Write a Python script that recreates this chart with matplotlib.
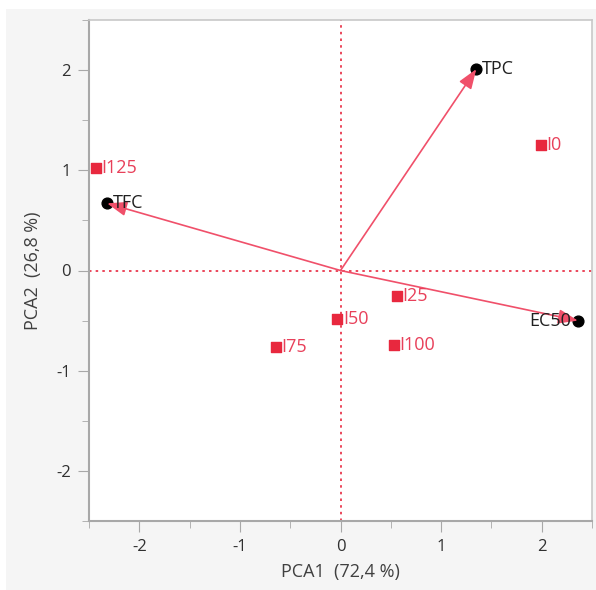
import numpy as np
import matplotlib.pyplot as plt
from matplotlib.patches import Rectangle
from matplotlib.ticker import MultipleLocator

# scores (samples)
samples = ['I0', 'I25', 'I50', 'I75', 'I100', 'I125']
pc1_s = [1.99, 0.56, -0.03, -0.64, 0.53, -2.43]
pc2_s = [1.25, -0.25, -0.48, -0.76, -0.74, 1.02]

# loadings (variables)
variables = ['TPC', 'TFC', 'EC50']
pc1_v = [1.35, -2.32, 2.36]
pc2_v = [2.01, 0.67, -0.50]

red = '#e8283e'
txt_red = '#e8405a'
line_red = '#f0506a'
gray = '#a8a8a8'

plt.rcParams['font.family'] = ['Open Sans', 'DejaVu Sans']
plt.rcParams['axes.unicode_minus'] = False

fig = plt.figure(figsize=(5.96, 5.90), dpi=100, facecolor='white')
fig.patches.append(Rectangle((6 / 596, 0), 1, 1 - 9 / 590, transform=fig.transFigure,
                             facecolor='#f5f5f5', edgecolor='none', zorder=-10))
ax = fig.add_axes([89 / 596, 69 / 590, (592 - 89) / 596, (521 - 20) / 590])
ax.set_facecolor('white')

ax.set_xlim(-2.5, 2.5)
ax.set_ylim(-2.5, 2.5)

ax.axhline(0, color=red, ls=(0, (1.5, 2.5)), lw=1.2, zorder=1)
ax.axvline(0, color=red, ls=(0, (1.5, 2.5)), lw=1.2, zorder=1)

# loading points + arrows
ax.scatter(pc1_v, pc2_v, s=60, color='black', zorder=3)
for x, y, name in zip(pc1_v, pc2_v, variables):
    ax.annotate('', xy=(x, y), xytext=(0, 0),
                arrowprops=dict(arrowstyle='-|>,head_length=0.6,head_width=0.22',
                                color=line_red, lw=1.2,
                                mutation_scale=20, shrinkA=0, shrinkB=0), zorder=4)
    if name == 'EC50':
        ax.annotate(name, (x, y), xytext=(-5, 0), textcoords='offset points',
                    ha='right', va='center', fontsize=13, color='#202020', zorder=5)
    else:
        ax.annotate(name, (x, y), xytext=(4, 0), textcoords='offset points',
                    ha='left', va='center', fontsize=13, color='#202020', zorder=5)

# sample points
ax.scatter(pc1_s, pc2_s, s=50, marker='s', color=red, zorder=3)
for x, y, name in zip(pc1_s, pc2_s, samples):
    ax.annotate(name, (x, y), xytext=(4, 0), textcoords='offset points',
                ha='left', va='center', fontsize=13, color=txt_red, zorder=5)

ax.xaxis.set_major_locator(MultipleLocator(1))
ax.yaxis.set_major_locator(MultipleLocator(1))
ax.xaxis.set_minor_locator(MultipleLocator(0.5))
ax.yaxis.set_minor_locator(MultipleLocator(0.5))
ax.tick_params(which='major', length=8, color=gray, labelsize=12, labelcolor='#303030', pad=5)
ax.tick_params(which='minor', length=5, color=gray)

for side in ['left', 'bottom']:
    ax.spines[side].set_color(gray)
    ax.spines[side].set_linewidth(1.5)
for side in ['top', 'right']:
    ax.spines[side].set_color('#c8c8c8')
    ax.spines[side].set_linewidth(1.2)

ax.set_xlabel('PCA1  (72,4 %)', fontsize=13, color='#404040', labelpad=6)
ax.set_ylabel('PCA2  (26,8 %)', fontsize=13, color='#404040', labelpad=10)

fig.savefig('out.png', dpi=100, facecolor=fig.get_facecolor())
